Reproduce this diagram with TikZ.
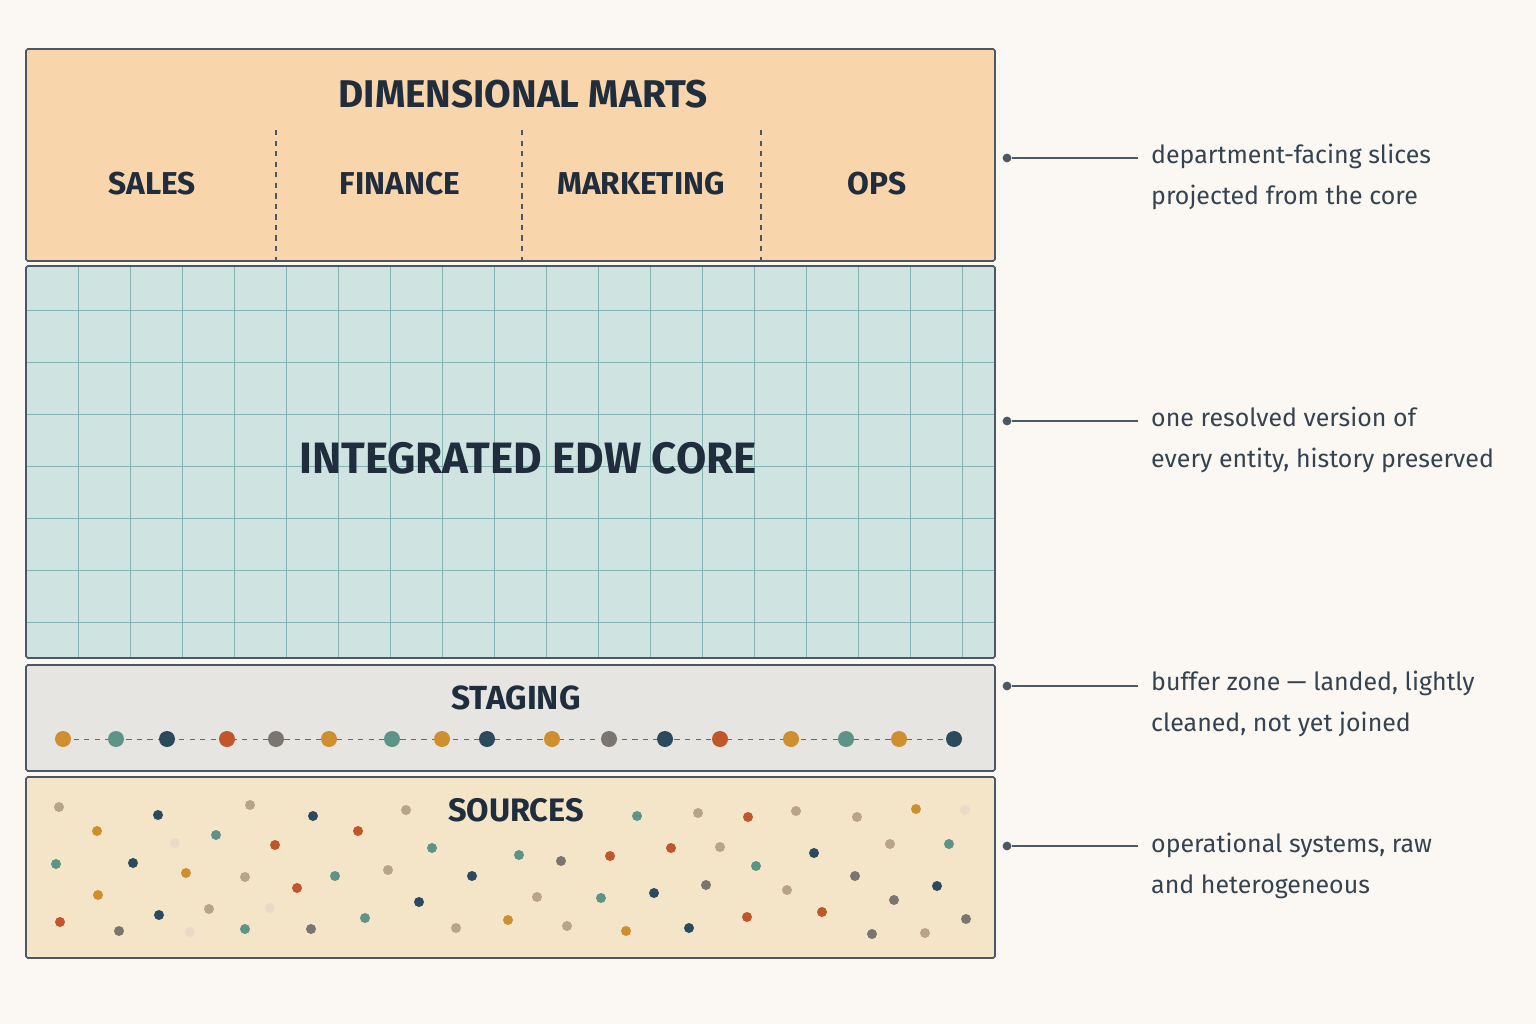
\documentclass[tikz,border=0pt]{standalone}
\usepackage{fontspec}
\setmainfont{Fira Sans}
\usetikzlibrary{positioning}
\definecolor{bgc}{HTML}{FBF8F3}
\definecolor{ink}{HTML}{1F2D3D}
\definecolor{martc}{HTML}{F9D5AC}
\definecolor{corec}{HTML}{CFE4E1}
\definecolor{gridc}{HTML}{82B5B2}
\definecolor{stagec}{HTML}{E7E5E1}
\definecolor{srcc}{HTML}{F4E4C8}
\definecolor{cgold}{HTML}{D08F2E}
\definecolor{cteal}{HTML}{5E9488}
\definecolor{cnavy}{HTML}{2C4A5E}
\definecolor{crust}{HTML}{C0562A}
\definecolor{cgrey}{HTML}{7A7570}
\definecolor{ctan}{HTML}{B8A487}
\definecolor{clight}{HTML}{E8DCC8}

\begin{document}
\begin{tikzpicture}[x=0.02cm,y=-0.02cm]
  \tikzstyle{layer} = [draw=ink!80, line width=0.9pt, rounded corners=1pt]
  \tikzstyle{head} = [text=ink, font=\bfseries\fontsize{22}{26}\selectfont]
  \tikzstyle{sub} = [text=ink, font=\bfseries\fontsize{18}{22}\selectfont]
  \tikzstyle{note} = [text=ink!90, font=\fontsize{14.2}{23.2}\selectfont, align=left, anchor=west]
  \tikzstyle{pin} = [circle, fill=ink!80, inner sep=0pt, minimum size=5pt]
  \tikzstyle{arrow} = [draw=ink!80, line width=0.6pt]

  \fill[bgc] (0,0) rectangle (1536,1024);
  \useasboundingbox (0,0) rectangle (1536,1024);

  % marts
  \filldraw[layer, fill=martc] (26,49) rectangle (995,261);
  \node (marts) [head] at (523,94) {DIMENSIONAL MARTS};
  \foreach \x in {276,522,761}
    \draw[ink!80, dashed, line width=0.6pt] (\x,130) -- (\x,261);
  \node (sales) [sub] at (152,184) {SALES};
  \node (fin) [sub] at (400,184) {FINANCE};
  \node (mkt) [sub] at (641,184) {MARKETING};
  \node (ops) [sub] at (877,184) {OPS};

  % core
  \fill[corec] (26,266) rectangle (995,658);
  \foreach \x in {78,130,...,962}
    \draw[gridc, line width=0.5pt] (\x,266) -- (\x,658);
  \foreach \y in {310,362,...,622}
    \draw[gridc, line width=0.5pt] (26,\y) -- (995,\y);
  \draw[layer] (26,266) rectangle (995,658);
  \node (core) [head, font=\bfseries\fontsize{25}{30}\selectfont] at (528,458) {INTEGRATED EDW CORE};

  % staging
  \filldraw[layer, fill=stagec] (26,665) rectangle (995,771);
  \node (staging) [head, font=\bfseries\fontsize{19}{22}\selectfont] at (516,698) {STAGING};
  \draw[ink!70, dashed, line width=0.5pt] (63,739) -- (954,739);
  \foreach \x/\c in {63/cgold,116/cteal,167/cnavy,227/crust,276/cgrey,329/cgold,392/cteal,442/cgold,487/cnavy,552/cgold,609/cgrey,665/cnavy,720/crust,791/cgold,846/cteal,899/cgold,954/cnavy}
    \fill[\c] (\x,739) circle (8);

  % sources
  \filldraw[layer, fill=srcc] (26,777) rectangle (995,958);
  \foreach \x/\y/\c in {59/807/ctan,97/831/cgold,158/815/cnavy,250/805/ctan,313/816/cnavy,358/831/crust,216/835/cteal,275/845/crust,56/864/cteal,133/863/cnavy,186/873/cgold,245/877/ctan,297/888/crust,335/876/cteal,388/870/ctan,406/810/ctan,432/848/cteal,472/876/cnavy,519/855/cteal,561/861/cgrey,610/856/crust,637/816/cteal,698/813/ctan,748/817/crust,796/811/ctan,857/817/ctan,916/809/cgold,949/844/cteal,890/844/ctan,814/853/cnavy,756/866/cteal,720/847/ctan,671/848/crust,855/876/cgrey,706/885/cgrey,654/893/cnavy,601/898/cteal,537/897/ctan,419/902/cnavy,98/895/cgold,60/922/crust,119/931/cgrey,159/915/cnavy,209/909/ctan,245/929/cteal,311/929/cgrey,365/918/cteal,456/928/ctan,508/920/cgold,567/926/ctan,626/931/cgold,689/928/cnavy,747/917/crust,787/890/ctan,822/912/crust,872/934/cgrey,894/900/cgrey,925/933/ctan,937/886/cnavy,966/919/cgrey,965/810/clight,270/908/clight,190/932/clight,175/843/clight}
    \fill[\c] (\x,\y) circle (5);
  \node (sources) [head, font=\bfseries\fontsize{18.5}{22}\selectfont] at (516,810) {SOURCES};

  % notes
  \node (p1) [pin] at (1007,158) {};
  \node (p2) [pin] at (1007,421) {};
  \node (p3) [pin] at (1007,686) {};
  \node (p4) [pin] at (1007,846) {};
  \node (n1) [note] at (1145,177) {department-facing slices\\projected from the core};
  \node (n2) [note] at (1145,440) {one resolved version of\\every entity, history preserved};
  \node (n3) [note] at (1145,704) {buffer zone — landed, lightly\\cleaned, not yet joined};
  \node (n4) [note] at (1145,866) {operational systems, raw\\and heterogeneous};
  \coordinate (e1) at (1138,158);
  \coordinate (e2) at (1138,421);
  \coordinate (e3) at (1138,686);
  \coordinate (e4) at (1138,846);
  \foreach \i in {1,2,3,4}
    \draw[arrow] (p\i) -- (e\i);
\end{tikzpicture}
\end{document}
